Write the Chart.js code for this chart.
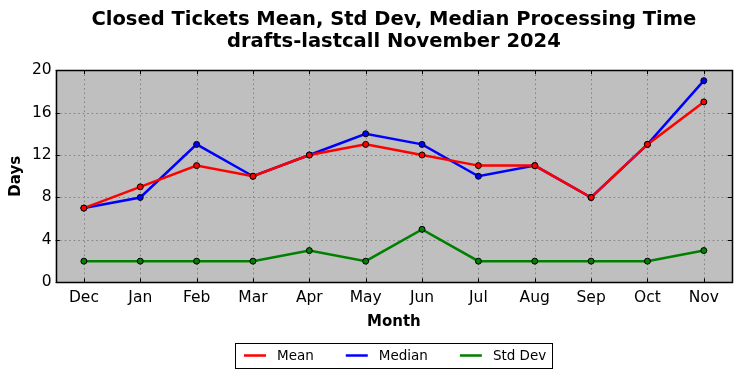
<!DOCTYPE html>
<html>
<head>
<meta charset="utf-8">
<script src="https://cdn.jsdelivr.net/npm/chart.js@4/dist/chart.umd.min.js"></script>
<style>
html,body{margin:0;padding:0;background:#fff;}
#wrap{width:742px;height:378px;}
</style>
</head>
<body>
<div id="wrap"><canvas id="c" width="742" height="378"></canvas></div>
<script>
const months = ["Dec","Jan","Feb","Mar","Apr","May","Jun","Jul","Aug","Sep","Oct","Nov"];
const meanDays = [7, 9, 11, 10, 12, 13, 12, 11, 11, 8, 13, 17];
const medianDays = [7, 8, 13, 10, 12, 14, 13, 10, 11, 8, 13, 19];
const stdDevDays = [2, 2, 2, 2, 3, 2, 5, 2, 2, 2, 2, 3];
const yTicks = [0, 4, 8, 12, 16, 20];
const titleLines = ["Closed Tickets Mean, Std Dev, Median Processing Time", "drafts-lastcall November 2024"];

const FONT = "'DejaVu Sans', sans-serif";

const frame = {
  id: 'frame',
  beforeDatasetsDraw(chart) {
    const {ctx, chartArea: a} = chart;
    ctx.save();
    ctx.fillStyle = '#bfbfbf';
    ctx.fillRect(a.left, a.top, a.right - a.left, a.bottom - a.top);
    ctx.strokeStyle = '#808080';
    ctx.lineWidth = 1;
    ctx.setLineDash([1.5, 3]);
    const xs = chart.scales.x, ys = chart.scales.y;
    months.forEach((m, i) => {
      const x = Math.round(xs.getPixelForValue(i)) + 0.5;
      ctx.beginPath(); ctx.moveTo(x, a.top); ctx.lineTo(x, a.bottom); ctx.stroke();
    });
    yTicks.forEach(v => {
      const y = Math.round(ys.getPixelForValue(v)) + 0.5;
      ctx.beginPath(); ctx.moveTo(a.left, y); ctx.lineTo(a.right, y); ctx.stroke();
    });
    ctx.setLineDash([]);
    ctx.strokeStyle = '#000';
    months.forEach((m, i) => {
      const x = Math.round(xs.getPixelForValue(i)) + 0.5;
      ctx.beginPath(); ctx.moveTo(x, a.bottom); ctx.lineTo(x, a.bottom - 4);
      ctx.moveTo(x, a.top); ctx.lineTo(x, a.top + 4); ctx.stroke();
    });
    yTicks.forEach(v => {
      const y = Math.round(ys.getPixelForValue(v)) + 0.5;
      ctx.beginPath(); ctx.moveTo(a.left, y); ctx.lineTo(a.left + 4, y);
      ctx.moveTo(a.right, y); ctx.lineTo(a.right - 4, y); ctx.stroke();
    });
    ctx.restore();
  },
  afterDraw(chart) {
    const {ctx, chartArea: a} = chart;
    ctx.save();
    ctx.strokeStyle = '#000';
    ctx.lineWidth = 1.5;
    ctx.strokeRect(Math.round(a.left) + 0.5, Math.round(a.top) + 0.5, Math.round(a.right - a.left), Math.round(a.bottom - a.top));
    // custom legend centered under the plot area
    const items = chart.data.datasets.map(d => ({ text: d.label, color: d.borderColor }));
    ctx.font = "13.5px " + FONT;
    const lineW = 22, gapText = 11, gapItem = 32, padL = 9, padR = 6;
    let total = padL + padR;
    items.forEach((it, i) => {
      it.w = ctx.measureText(it.text).width;
      total += lineW + gapText + it.w + (i < items.length - 1 ? gapItem : 0);
    });
    const cx = (a.left + a.right) / 2;
    const left = Math.round(cx - total / 2);
    const top = 343, h = 25, midY = top + h / 2;
    ctx.lineWidth = 1;
    ctx.strokeRect(left + 0.5, top + 0.5, Math.round(total), h);
    let x = left + padL;
    ctx.textBaseline = 'middle';
    ctx.textAlign = 'left';
    items.forEach(it => {
      ctx.strokeStyle = it.color;
      ctx.lineWidth = 2.5;
      ctx.beginPath(); ctx.moveTo(x, midY); ctx.lineTo(x + lineW, midY); ctx.stroke();
      x += lineW + gapText;
      ctx.fillStyle = '#000';
      ctx.fillText(it.text, x, midY + 1);
      x += it.w + gapItem;
    });
    ctx.restore();
  }
};

function ds(label, data, color) {
  return {
    label, data,
    borderColor: color,
    backgroundColor: color,
    borderWidth: 2.5,
    pointRadius: 3,
    pointBorderWidth: 1,
    pointBorderColor: '#000',
    pointBackgroundColor: color,
    tension: 0
  };
}

new Chart(document.getElementById('c'), {
  type: 'line',
  data: {
    labels: months,
    datasets: [
      ds('Mean', meanDays, '#ff0000'),
      ds('Median', medianDays, '#0000ff'),
      ds('Std Dev', stdDevDays, '#008000')
    ]
  },
  plugins: [frame],
  options: {
    responsive: false,
    animation: false,
    devicePixelRatio: 1,
    layout: { padding: { left: 7, right: 10, top: 0, bottom: 48 } },
    plugins: {
      title: {
        display: true,
        fullSize: false,
        text: titleLines,
        color: '#000',
        font: { family: FONT, size: 19.5, weight: 'bold', lineHeight: 1.13 },
        padding: { top: 9, bottom: 17 }
      },
      legend: { display: false },
      tooltip: { enabled: false }
    },
    scales: {
      x: {
        type: 'category',
        offset: true,
        grid: { display: false, drawTicks: false },
        border: { display: false },
        ticks: { color: '#000', font: { family: FONT, size: 15.5 }, padding: 6, maxRotation: 0 },
        title: { display: true, text: 'Month', color: '#000', font: { family: FONT, size: 15, weight: 'bold', lineHeight: 1.0 }, padding: { top: 2, bottom: 0 } }
      },
      y: {
        min: 0, max: 20,
        grid: { display: false, drawTicks: false },
        border: { display: false },
        afterBuildTicks(scale) { scale.ticks = yTicks.map(v => ({ value: v })); },
        ticks: { color: '#000', font: { family: FONT, size: 15.5 }, padding: 4 },
        title: { display: true, text: 'Days', color: '#000', font: { family: FONT, size: 15, weight: 'bold' }, padding: { top: 0, bottom: 3 } }
      }
    }
  }
});
</script>
</body>
</html>
